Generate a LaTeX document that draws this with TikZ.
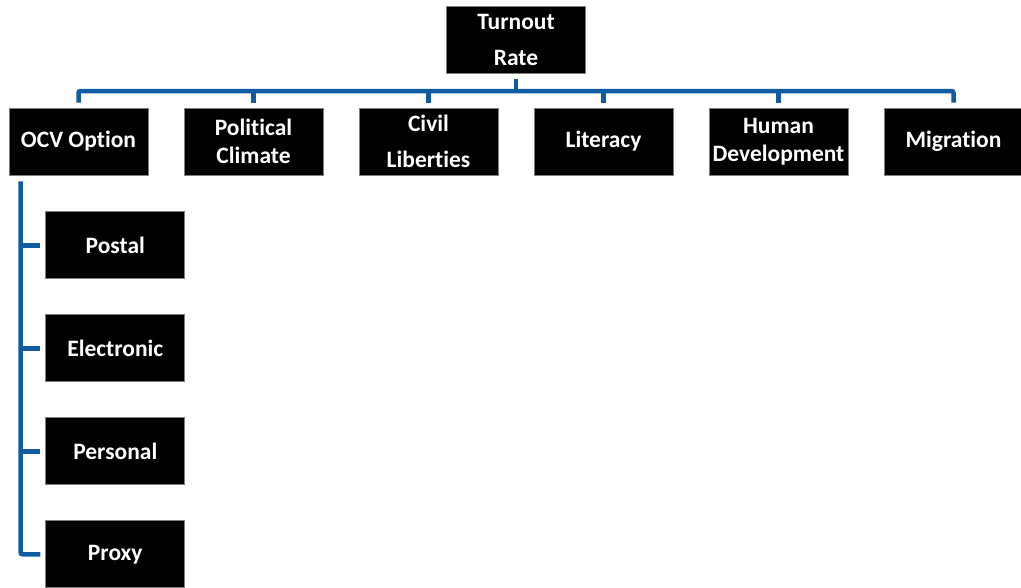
\documentclass[tikz,border=0pt]{standalone}
\usepackage{fontspec}
\setmainfont{Carlito}[RawFeature=-liga]
\usepackage{tikz}
\usetikzlibrary{positioning}
\definecolor{linkblue}{HTML}{0F5CA3}
\definecolor{boxedge}{HTML}{7F7F7F}

\begin{document}
\begin{tikzpicture}[
  x=1pt,y=1pt,
  box/.style={draw=boxedge,line width=0.8pt,fill=black,text=white,
              font=\fontsize{23.5}{28}\selectfont\bfseries,
              minimum width=139pt,minimum height=67pt,inner sep=0pt,align=center},
  tallbox/.style={box,font=\fontsize{23.5}{36}\selectfont\bfseries},
  link/.style={line width=4.5pt,color=linkblue,rounded corners=2pt},
  node distance=35.2pt and 35.2pt
]
\useasboundingbox (0,0) rectangle (1021,-587);
\node[tallbox] (turnout) at (516,-39.5) {Turnout\\Rate};
\node[box] (ocv) at (78.5,-141.5) {OCV Option};
\node[box,right=of ocv] (pol) {Political\\Climate};
\node[tallbox,right=of pol] (civil) {Civil\\Liberties};
\node[box,right=of civil] (lit) {Literacy};
\node[box,right=of lit] (hum) {Human\\Development};
\node[box,right=of hum] (migr) {Migration};
\node[box,below right=36pt and -103pt of ocv] (postal) {Postal};
\node[box,below=of postal] (elec) {Electronic};
\node[box,below=of elec] (pers) {Personal};
\node[box,below=of pers] (proxy) {Proxy};
% top level
\coordinate (bar) at (0,-91);
\draw[link] ([yshift=-6pt]turnout.south) -- (turnout.south |- bar);
\draw[link] ([yshift=5pt]ocv.north) -- (ocv.north |- bar) -- (migr.north |- bar) -- ([yshift=5pt]migr.north);
\draw[link] ([yshift=5pt]pol.north) -- (pol.north |- bar);
\draw[link] ([yshift=5pt]civil.north) -- (civil.north |- bar);
\draw[link] ([yshift=5pt]lit.north) -- (lit.north |- bar);
\draw[link] ([yshift=5pt]hum.north) -- (hum.north |- bar);
% OCV options
\coordinate (spine) at ([xshift=12pt,yshift=-6pt]ocv.south west);
\draw[link] (spine) |- ([xshift=-5pt]proxy.west);
\draw[link] (spine |- postal.west) -- ([xshift=-5pt]postal.west);
\draw[link] (spine |- elec.west) -- ([xshift=-5pt]elec.west);
\draw[link] (spine |- pers.west) -- ([xshift=-5pt]pers.west);
\end{tikzpicture}
\end{document}
